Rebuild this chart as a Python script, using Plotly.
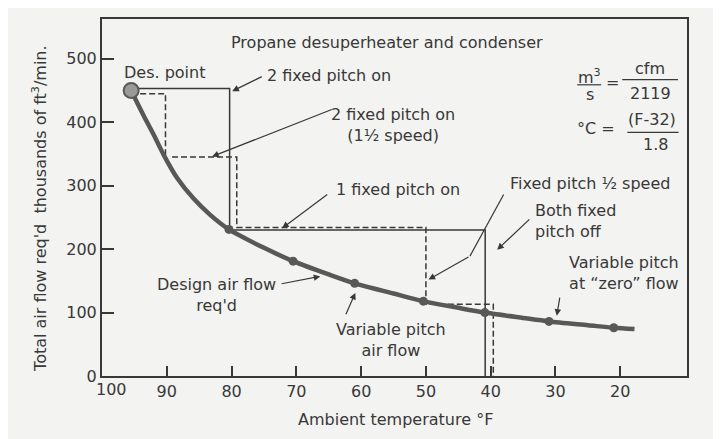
import plotly.graph_objects as go

# design air flow curve (thousands of cfm vs ambient temperature, deg F)
curve_temp = [95.5, 93.6, 92.0, 90.5, 88.4, 85.9, 83.3, 80.4, 75, 70.5, 65, 61, 55,
              50.4, 45, 40.9, 35, 31, 25, 21, 17.8]
curve_flow = [450, 411, 380, 349, 312, 280, 254, 231, 202, 181, 160, 146, 130,
              118, 107.5, 100, 91.5, 86, 80, 76, 74]

mark_temp = [80.4, 70.5, 61, 50.4, 40.9, 31, 21]
mark_flow = [231, 181, 146, 118, 100, 86, 76]

design_temp = [95.5]
design_flow = [450]

# fan staging lines
solid_temp = [95.5, 80.3, 80.3, 40.85, 40.85]
solid_flow = [453, 453, 230, 230, 0]

dashed_temp = [95.5, 90.2, 90.2, None, 89.2, 79.2, 79.2, 50, 50, 39.6, 39.6]
dashed_flow = [445, 445, 347, None, 345, 345, 234, 234, 113, 113, 0]

x_ticks = [90, 80, 70, 60, 50, 40, 30, 20]
y_ticks = [0, 100, 200, 300, 400, 500]

ink = "#383838"
curve_col = "#585858"
paper = "#f3f3f1"
font = dict(family="DejaVu Sans", size=16, color=ink)

fig = go.Figure()
fig.add_trace(go.Scatter(x=solid_temp, y=solid_flow, mode="lines",
                         line=dict(color=ink, width=1.5)))
fig.add_trace(go.Scatter(x=dashed_temp, y=dashed_flow, mode="lines",
                         line=dict(color=ink, width=1.5, dash="6px,3px")))
fig.add_trace(go.Scatter(x=curve_temp, y=curve_flow, mode="lines",
                         line=dict(color=curve_col, width=4.5, shape="spline",
                                   smoothing=0.8)))
fig.add_trace(go.Scatter(x=mark_temp, y=mark_flow, mode="markers",
                         marker=dict(color=curve_col, size=9)))
fig.add_trace(go.Scatter(x=design_temp, y=design_flow, mode="markers",
                         marker=dict(color="#9a9a9a", size=15,
                                     line=dict(color=curve_col, width=2))))

# text labels (x = temperature, y = flow)
labels = [
    ("Propane desuperheater and condenser", 56.0, 526),
    ("Des. point", 90.3, 479),
    ("2 fixed pitch on", 64.9, 474),
    ("2 fixed pitch on<br>(1½ speed)", 55.1, 396),
    ("1 fixed pitch on", 54.35, 294),
    ("Fixed pitch ½ speed", 24.6, 304),
    ("Design air flow<br>req'd", 82.4, 128),
    ("Variable pitch<br>air flow", 55.4, 56),
    ("Variable pitch<br>at “zero” flow", 19.5, 163),
]
for txt, x, y in labels:
    fig.add_annotation(x=x, y=y, text=txt, showarrow=False, align="center", font=font)
fig.add_annotation(x=33.4, y=244, text="Both fixed<br>pitch off", showarrow=False,
                   xanchor="left", align="left", font=font)

# leader arrows: (tail x, tail y, head x, head y)
arrows = [
    (75.1, 473, 79.9, 449),
    (64.3, 421, 83.0, 346),
    (65.0, 288, 72.2, 233),
    (43.2, 189, 49.6, 152),
    (33.8, 249, 39.0, 199),
    (72.5, 145, 66.3, 157),
    (62.45, 95, 60.9, 131),
    (29.3, 126, 29.8, 95),
]
for tx, ty, hx, hy in arrows:
    fig.add_annotation(x=hx, y=hy, ax=tx, ay=ty, axref="x", ayref="y", text="",
                       showarrow=True, arrowhead=2, arrowsize=1.1, arrowwidth=1.2,
                       arrowcolor=ink)
fig.add_shape(type="line", x0=38.0, y0=286, x1=43.2, y1=189,
              line=dict(color=ink, width=1.2))

# conversion formulas
formula = [
    ("m<sup>3</sup>", 24.75, 472), ("s", 24.75, 443), ("=", 21.2, 463),
    ("cfm", 15.4, 484), ("2119", 15.4, 445),
    ("°C =", 23.8, 390), ("(F-32)", 15.1, 404), ("1.8", 14.6, 365),
]
for txt, x, y in formula:
    fig.add_annotation(x=x, y=y, text=txt, showarrow=False, font=font)
for x0, x1, y in [(26.65, 22.95, 459), (19.7, 11.1, 467), (18.9, 11.0, 384)]:
    fig.add_shape(type="line", x0=x0, x1=x1, y0=y, y1=y, line=dict(color=ink, width=1.2))

fig.add_annotation(x=98.55, y=-0.039, yref="paper", yanchor="middle", text="100",
                   showarrow=False, font=font)
fig.add_annotation(x=-0.106, y=0.468, xref="paper", yref="paper", textangle=-90,
                   xanchor="center", yanchor="middle",
                   text="Total air flow req'd  thousands of ft<sup>3</sup>/min.",
                   showarrow=False, font=font)
fig.add_annotation(x=0.501, y=-0.1226, xref="paper", yref="paper",
                   xanchor="center", yanchor="middle",
                   text="Ambient temperature °F", showarrow=False, font=font)

fig.update_layout(
    width=721, height=439,
    margin=dict(l=94, r=42, t=9, b=71),
    paper_bgcolor=paper, plot_bgcolor=paper,
    showlegend=False, font=font,
)
fig.update_xaxes(range=[100, 9.7], tickvals=x_ticks, ticks="inside", ticklen=10,
                 tickwidth=1.5, tickcolor=ink, showline=True, linecolor=ink,
                 linewidth=2, mirror=True, showgrid=False, zeroline=False)
fig.update_yaxes(range=[0, 562.7], tickvals=y_ticks, ticks="inside", ticklen=12,
                 tickwidth=1.5, tickcolor=ink, showline=True, linecolor=ink,
                 linewidth=2, mirror=True, showgrid=False, zeroline=False)

fig.write_html("out.html")
